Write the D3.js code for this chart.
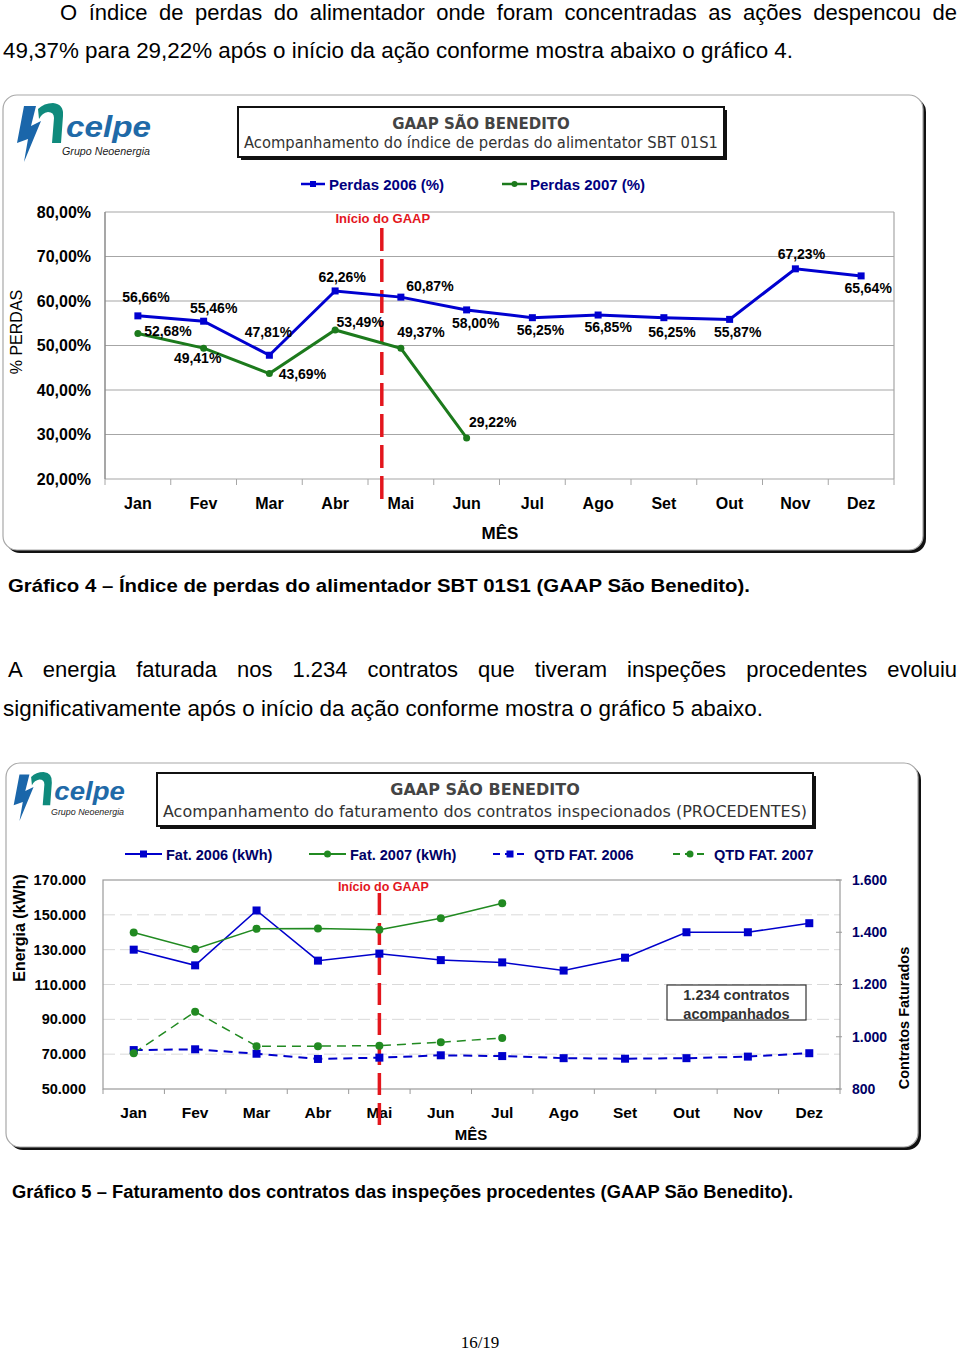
<!DOCTYPE html>
<html><head><meta charset="utf-8">
<script src="https://cdn.jsdelivr.net/npm/d3@7"></script>
<style>body{margin:0;background:#fff}svg{display:block}</style>
</head><body><svg id="page" width="960" height="1352"></svg>
<script>
// ---------------- DATA ----------------
const months = ["Jan","Fev","Mar","Abr","Mai","Jun","Jul","Ago","Set","Out","Nov","Dez"];
const perdas2006 = [56.66,55.46,47.81,62.26,60.87,58.00,56.25,56.85,56.25,55.87,67.23,65.64];
const perdas2007 = [52.68,49.41,43.69,53.49,49.37,29.22];
const perdasTicks = [20,30,40,50,60,70,80];

const fat2006 = [130000,121000,152500,123700,127700,124000,122700,118000,125400,140000,140000,145200];
const fat2007 = [139800,130400,142000,142100,141400,148100,156700];
const qtd2006 = [949,952,935,915,920,929,926,918,916,918,924,937];
const qtd2007 = [937,1096,964,964,966,979,995];
const energiaTicks = [50000,70000,90000,110000,130000,150000,170000];
const contratosTicks = [800,1000,1200,1400,1600];
const gaapStartMonth = "Mai";

// label offsets (layout only): [dx, dy] of label baseline-centre from the point
const lab2006 = [[8,-14],[10,-8],[-1,-18],[7,-9],[29,-6],[9,18],[8,17],[10,17],[8,19],[8,18],[6,-10],[7,17]];
const lab2007 = [[30,2],[-6,15],[33,5],[25,-3],[20,-11],[26,-11]];

// ---------------- SETUP ----------------
const svg = d3.select("#page");
const SANS = "'Liberation Sans', Arial, Helvetica, sans-serif";
const VERD = "'DejaVu Sans', Verdana, sans-serif";
const loc = d3.formatLocale({decimal:",", thousands:".", grouping:[3], currency:["R$",""]});
const fmtPct = v => loc.format(".2f")(v) + "%";
const fmtInt = loc.format(",.0f");

function txt(x, y, s, size, weight, opts = {}) {
  const t = svg.append("text").attr("x", x).attr("y", y).text(s)
    .attr("font-family", opts.family || SANS).attr("font-size", size)
    .attr("font-weight", weight || "normal").attr("fill", opts.fill || "#000")
    .attr("text-anchor", opts.anchor || "start");
  if (opts.len) t.attr("textLength", opts.len).attr("lengthAdjust", "spacingAndGlyphs");
  if (opts.style) t.attr("font-style", opts.style);
  return t;
}
function justify(str, x0, x1, y, size, weight) {
  const words = str.split(" ");
  const nodes = words.map(w => txt(0, y, w, size, weight));
  const widths = nodes.map(n => n.node().getComputedTextLength());
  const total = d3.sum(widths);
  const gap = (x1 - x0 - total) / (words.length - 1);
  let x = x0;
  nodes.forEach((n, i) => { n.attr("x", x); x += widths[i] + gap; });
}

// ---------------- PAGE TEXT ----------------
justify("O índice de perdas do alimentador onde foram concentradas as ações despencou de", 60, 957, 20, 22);
txt(3, 58, "49,37% para 29,22% após o início da ação conforme mostra abaixo o gráfico 4.", 22, "normal", {len: 790});
txt(8, 592, "Gráfico 4 – Índice de perdas do alimentador SBT 01S1 (GAAP São Benedito).", 19, "bold", {len: 742});
justify("A energia faturada nos 1.234 contratos que tiveram inspeções procedentes evoluiu", 8, 957, 677, 22);
txt(3, 716, "significativamente após o início da ação conforme mostra o gráfico 5 abaixo.", 22, "normal", {len: 760});
txt(12, 1198, "Gráfico 5 – Faturamento dos contratos das inspeções procedentes (GAAP São Benedito).", 18, "bold", {len: 781});
txt(480, 1348, "16/19", 17, "normal", {family: "'Liberation Serif', 'Times New Roman', serif", anchor: "middle"});

// ---------------- HELPERS ----------------
function frame(x, y, w, h, r) {
  svg.append("rect").attr("x", x + 3).attr("y", y + 3).attr("width", w).attr("height", h).attr("rx", r).attr("fill", "#111");
  svg.append("rect").attr("x", x).attr("y", y).attr("width", w).attr("height", h).attr("rx", r)
    .attr("fill", "#fff").attr("stroke", "#a8a8a8").attr("stroke-width", 1.2);
}
function titleBox(x, y, w, h, title, sub, tSize, sSize, sLen, tY, sY) {
  svg.append("rect").attr("x", x + 3).attr("y", y + 3).attr("width", w).attr("height", h).attr("fill", "#111");
  svg.append("rect").attr("x", x).attr("y", y).attr("width", w).attr("height", h)
    .attr("fill", "#fff").attr("stroke", "#111").attr("stroke-width", 2);
  txt(x + w / 2, tY, title, tSize, "bold", {family: VERD, anchor: "middle", fill: "#444"});
  txt(x + w / 2, sY, sub, sSize, "normal", {family: VERD, anchor: "middle", fill: "#333", len: sLen});
}
function logo(tx, ty, s) {
  const g = svg.append("g").attr("transform", `translate(${tx - 15 * s},${ty - 103 * s}) scale(${s})`);
  g.append("path").attr("d", "M38,109 Q44,103 53,103 Q64,104 63,116 L61,143 L52,143 L54,118 Q54,112 48,112 Q42,113 39,119 Z")
    .attr("fill", "#0f8a7c");
  g.append("path").attr("d", "M24,106 L36,106 L31,126 L41,121 L24,162 L28,139 L17,143 Z")
    .attr("fill", "#1a66aa");
  g.append("text").attr("x", 66).attr("y", 137).text("celpe")
    .attr("font-family", SANS).attr("font-weight", "bold").attr("font-style", "italic")
    .attr("font-size", 30).attr("fill", "#1f6aa8").attr("textLength", 85).attr("lengthAdjust", "spacingAndGlyphs");
  g.append("text").attr("x", 62).attr("y", 155).text("Grupo Neoenergia")
    .attr("font-family", SANS).attr("font-style", "italic").attr("font-size", 11).attr("fill", "#222")
    .attr("textLength", 88).attr("lengthAdjust", "spacingAndGlyphs");
}

// =============== CHART 1 ===============
frame(3, 95, 920, 455, 14);
logo(15, 103, 1);
titleBox(238, 107, 486, 50, "GAAP SÃO BENEDITO",
  "Acompanhamento do índice de perdas do alimentator SBT 01S1", 15, 15, 474, 129, 148);

const c1 = {left: 105, right: 894, top: 212, bottom: 479};
const x1 = d3.scaleBand().domain(months).range([c1.left, c1.right]);
const bw1 = x1.bandwidth();
const y1 = d3.scaleLinear().domain([20, 80]).range([c1.bottom, c1.top]);
const cx1 = i => x1(months[i]) + bw1 / 2;

// grid
svg.append("g").selectAll("line").data(perdasTicks).join("line")
  .attr("x1", c1.left).attr("x2", c1.right).attr("y1", d => y1(d)).attr("y2", d => y1(d))
  .attr("stroke", "#a6a6a6").attr("stroke-width", 1.2);
svg.append("line").attr("x1", c1.left).attr("x2", c1.left).attr("y1", c1.top).attr("y2", c1.bottom).attr("stroke", "#8a8a8a").attr("stroke-width", 1.5);
svg.append("line").attr("x1", c1.right).attr("x2", c1.right).attr("y1", c1.top).attr("y2", c1.bottom).attr("stroke", "#a6a6a6").attr("stroke-width", 1.2);
svg.append("g").selectAll("line").data(d3.range(months.length + 1)).join("line")
  .attr("x1", i => c1.left + i * bw1).attr("x2", i => c1.left + i * bw1)
  .attr("y1", c1.bottom).attr("y2", c1.bottom + 6).attr("stroke", "#a6a6a6");

// axes
const ax1 = svg.append("g").attr("transform", `translate(${c1.left},0)`)
  .call(d3.axisLeft(y1).tickValues(perdasTicks).tickFormat(fmtPct).tickSize(0).tickPadding(14));
ax1.select(".domain").remove();
ax1.selectAll("text").attr("font-family", SANS).attr("font-size", 16).attr("font-weight", "bold").attr("fill", "#000");
const bx1 = svg.append("g").attr("transform", `translate(0,${c1.bottom})`)
  .call(d3.axisBottom(x1).tickSize(0).tickPadding(19));
bx1.select(".domain").remove();
bx1.selectAll("text").attr("font-family", SANS).attr("font-size", 16).attr("font-weight", "bold").attr("fill", "#000");

txt(22, 332, "% PERDAS", 16, "normal", {anchor: "middle"}).attr("transform", "rotate(-90,22,332)").attr("x", 22).attr("y", 332);
txt(500, 539, "MÊS", 17, "bold", {anchor: "middle"});

// GAAP line
const gx1 = x1(gaapStartMonth) + bw1 * 0.21;
svg.append("line").attr("x1", gx1).attr("x2", gx1).attr("y1", 228).attr("y2", 500)
  .attr("stroke", "#e3161d").attr("stroke-width", 3.5).attr("stroke-dasharray", "23,8");
txt(gx1 + 1, 223, "Início do GAAP", 13, "bold", {anchor: "middle", fill: "#e3161d"});

// series
const BLUE = "#0000d0", GREEN = "#1c7a1c";
const line1 = d3.line().x((d, i) => cx1(i)).y(d => y1(d));
svg.append("path").datum(perdas2006).attr("d", line1).attr("fill", "none").attr("stroke", BLUE).attr("stroke-width", 3);
svg.append("path").datum(perdas2007).attr("d", line1).attr("fill", "none").attr("stroke", GREEN).attr("stroke-width", 3);
svg.append("g").selectAll("rect").data(perdas2006).join("rect")
  .attr("x", (d, i) => cx1(i) - 3.5).attr("y", d => y1(d) - 3.5).attr("width", 7).attr("height", 7).attr("fill", BLUE);
svg.append("g").selectAll("circle").data(perdas2007).join("circle")
  .attr("cx", (d, i) => cx1(i)).attr("cy", d => y1(d)).attr("r", 3.5).attr("fill", GREEN);
perdas2006.forEach((d, i) => txt(cx1(i) + lab2006[i][0], y1(d) + lab2006[i][1], fmtPct(d), 14, "bold", {anchor: "middle"}));
perdas2007.forEach((d, i) => txt(cx1(i) + lab2007[i][0], y1(d) + lab2007[i][1], fmtPct(d), 14, "bold", {anchor: "middle"}));

// legend
svg.append("line").attr("x1", 301).attr("x2", 325).attr("y1", 184).attr("y2", 184).attr("stroke", BLUE).attr("stroke-width", 2.5);
svg.append("rect").attr("x", 310).attr("y", 181).attr("width", 6).attr("height", 6).attr("fill", BLUE);
txt(329, 190, "Perdas 2006 (%)", 15, "bold", {fill: "#000080"});
svg.append("line").attr("x1", 502).attr("x2", 527).attr("y1", 184).attr("y2", 184).attr("stroke", GREEN).attr("stroke-width", 2.5);
svg.append("circle").attr("cx", 514.5).attr("cy", 184).attr("r", 3).attr("fill", GREEN);
txt(530, 190, "Perdas 2007 (%)", 15, "bold", {fill: "#000080"});

// =============== CHART 2 ===============
frame(6, 763, 912, 384, 14);
logo(12, 772, 0.83);
titleBox(157, 773, 656, 53, "GAAP SÃO BENEDITO",
  "Acompanhamento do faturamento dos contratos inspecionados (PROCEDENTES)", 16, 16, 644, 795, 817);

const c2 = {left: 103, right: 840, top: 880, bottom: 1089};
const x2 = d3.scaleBand().domain(months).range([c2.left, c2.right]);
const bw2 = x2.bandwidth();
const cx2 = i => x2(months[i]) + bw2 / 2;
const yL = d3.scaleLinear().domain([50000, 170000]).range([c2.bottom, c2.top]);
const yR = d3.scaleLinear().domain([800, 1600]).range([c2.bottom, c2.top]);

svg.append("g").selectAll("line").data(energiaTicks.slice(1, -1)).join("line")
  .attr("x1", c2.left).attr("x2", c2.right).attr("y1", d => yL(d)).attr("y2", d => yL(d))
  .attr("stroke", "#d9d9d9").attr("stroke-width", 1).attr("stroke-dasharray", "12,5");
svg.append("rect").attr("x", c2.left).attr("y", c2.top).attr("width", c2.right - c2.left).attr("height", c2.bottom - c2.top)
  .attr("fill", "none").attr("stroke", "#9a9a9a").attr("stroke-width", 1.2);
svg.append("g").selectAll("line").data(d3.range(months.length + 1)).join("line")
  .attr("x1", i => c2.left + i * bw2).attr("x2", i => c2.left + i * bw2)
  .attr("y1", c2.bottom).attr("y2", c2.bottom + 5).attr("stroke", "#9a9a9a");
svg.append("g").selectAll("line").data(contratosTicks).join("line")
  .attr("x1", c2.right - 4).attr("x2", c2.right + 2).attr("y1", d => yR(d)).attr("y2", d => yR(d)).attr("stroke", "#9a9a9a");

const axL = svg.append("g").attr("transform", `translate(${c2.left},0)`)
  .call(d3.axisLeft(yL).tickValues(energiaTicks).tickFormat(fmtInt).tickSize(0).tickPadding(17));
axL.select(".domain").remove();
axL.selectAll("text").attr("font-family", SANS).attr("font-size", 14.5).attr("font-weight", "bold").attr("fill", "#000");
const axR = svg.append("g").attr("transform", `translate(${c2.right},0)`)
  .call(d3.axisRight(yR).tickValues(contratosTicks).tickFormat(fmtInt).tickSize(0).tickPadding(12));
axR.select(".domain").remove();
axR.selectAll("text").attr("font-family", SANS).attr("font-size", 14).attr("font-weight", "bold").attr("fill", "#000066");
const bx2 = svg.append("g").attr("transform", `translate(0,${c2.bottom})`)
  .call(d3.axisBottom(x2).tickSize(0).tickPadding(18));
bx2.select(".domain").remove();
bx2.selectAll("text").attr("font-family", SANS).attr("font-size", 15.5).attr("font-weight", "bold").attr("fill", "#000");

txt(25, 928, "Energia (kWh)", 16, "bold", {anchor: "middle"}).attr("transform", "rotate(-90,25,928)");
txt(909, 1018, "Contratos Faturados", 14.5, "bold", {anchor: "middle"}).attr("transform", "rotate(-90,909,1018)");
txt(471, 1140, "MÊS", 15, "bold", {anchor: "middle"});

// GAAP line
const gx2 = x2(gaapStartMonth) + bw2 / 2;
svg.append("line").attr("x1", gx2).attr("x2", gx2).attr("y1", 893).attr("y2", 1125)
  .attr("stroke", "#e3161d").attr("stroke-width", 3.5).attr("stroke-dasharray", "22,8");
txt(gx2 + 4, 891, "Início do GAAP", 12.5, "bold", {anchor: "middle", fill: "#e3161d"});

// series
const B2 = "#0000cc", G2 = "#218a21";
const lineL = d3.line().x((d, i) => cx2(i)).y(d => yL(d));
const lineR = d3.line().x((d, i) => cx2(i)).y(d => yR(d));
svg.append("path").datum(fat2006).attr("d", lineL).attr("fill", "none").attr("stroke", B2).attr("stroke-width", 1.5);
svg.append("path").datum(fat2007).attr("d", lineL).attr("fill", "none").attr("stroke", G2).attr("stroke-width", 1.5);
svg.append("path").datum(qtd2006).attr("d", lineR).attr("fill", "none").attr("stroke", B2).attr("stroke-width", 2).attr("stroke-dasharray", "9,6");
svg.append("path").datum(qtd2007).attr("d", lineR).attr("fill", "none").attr("stroke", G2).attr("stroke-width", 1.5).attr("stroke-dasharray", "9,6");
function squares(data, y) {
  svg.append("g").selectAll("rect").data(data).join("rect")
    .attr("x", (d, i) => cx2(i) - 4).attr("y", d => y(d) - 4).attr("width", 8).attr("height", 8).attr("fill", B2);
}
function dots(data, y) {
  svg.append("g").selectAll("circle").data(data).join("circle")
    .attr("cx", (d, i) => cx2(i)).attr("cy", d => y(d)).attr("r", 4).attr("fill", G2);
}
squares(fat2006, yL); dots(fat2007, yL); squares(qtd2006, yR); dots(qtd2007, yR);

// annotation
svg.append("rect").attr("x", 667).attr("y", 985).attr("width", 139).attr("height", 35)
  .attr("fill", "#fff").attr("stroke", "#333").attr("stroke-width", 1.2);
txt(736.5, 1000, "1.234 contratos", 14.5, "bold", {anchor: "middle", fill: "#333"});
txt(736.5, 1019, "acompanhados", 14.5, "bold", {anchor: "middle", fill: "#333"});

// legend
function legItem(x0, x1, y, color, marker, dashed, label, tx) {
  svg.append("line").attr("x1", x0).attr("x2", x1).attr("y1", y).attr("y2", y).attr("stroke", color)
    .attr("stroke-width", 1.8).attr("stroke-dasharray", dashed ? "7,5" : null);
  const m = (x0 + x1) / 2;
  if (marker === "sq") svg.append("rect").attr("x", m - 3.5).attr("y", y - 3.5).attr("width", 7).attr("height", 7).attr("fill", color);
  else svg.append("circle").attr("cx", m).attr("cy", y).attr("r", 3.5).attr("fill", color);
  txt(tx, y + 5.5, label, 14.5, "bold", {fill: "#000066"});
}
legItem(125, 162, 854, B2, "sq", false, "Fat. 2006 (kWh)", 166);
legItem(309, 346, 854, G2, "ci", false, "Fat. 2007 (kWh)", 350);
legItem(493, 527, 854, B2, "sq", true, "QTD FAT. 2006", 534);
legItem(673, 707, 854, G2, "ci", true, "QTD FAT. 2007", 714);
</script></body></html>
